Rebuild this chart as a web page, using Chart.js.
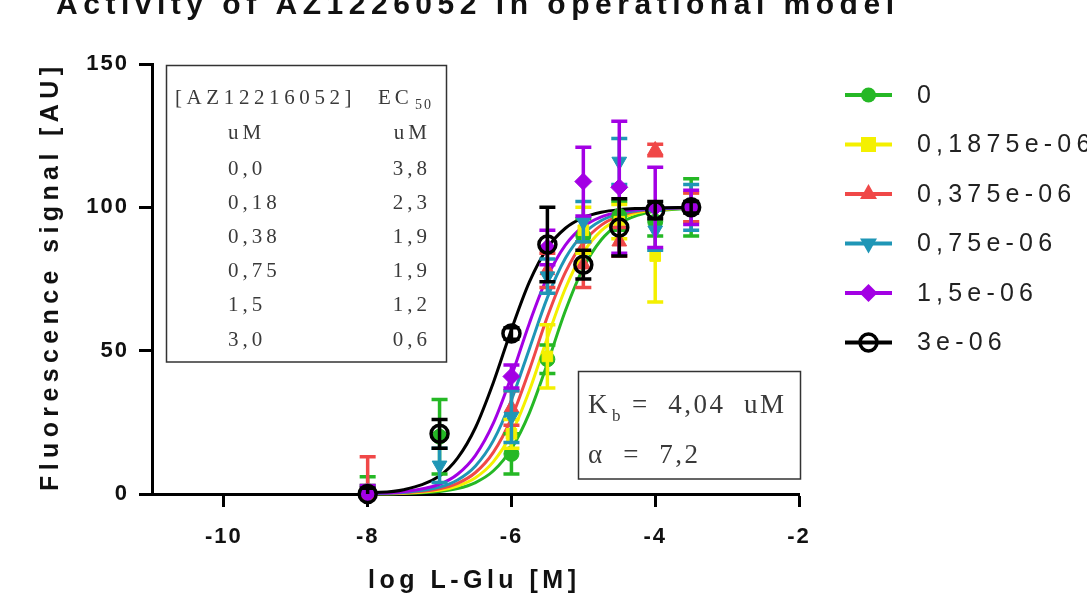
<!DOCTYPE html>
<html>
<head>
<meta charset="utf-8">
<script src="https://cdn.jsdelivr.net/npm/chart.js@4.4.1/dist/chart.umd.min.js"></script>
<style>
html, body { margin: 0; padding: 0; background: #fff; overflow: hidden; }
#wrap { width: 1087px; height: 593px; }
</style>
</head>
<body>
<div id="wrap"><canvas id="activityChart" width="1087" height="593"></canvas></div>
<script>
// series (antagonist concentration, M)
const seriesNames = ["0", "0,1875e-06", "0,375e-06", "0,75e-06", "1,5e-06", "3e-06"];
const seriesColors = ["#25b825", "#f4f000", "#f04848", "#1f96b6", "#a300e4", "#000000"];
const seriesMarkers = ["circle", "rect", "triangle", "triangleDown", "rectRot", "ring"];

// measured points: log [L-Glu]
const logGlu = [-8, -7, -6, -5.5, -5, -4.5, -4, -3.5];
const meanC0 = [1, 20, 14, 47, 90, 97, 95, 100];
const semC0 = [5, 13, 7, 5, 6, 5, 5, 10];
const meanC01875 = [0, null, 21, 48, 92, 95, 83, 100];
const semC01875 = [3, 0, 5, 11, 8, 6, 16, 5];
const meanC0375 = [0, null, 30, 78, 80, 88, 120, 100];
const semC0375 = [13, 0, 6, 6, 8, 5, 2, 5];
const meanC075 = [0, 10, 27, 76, 95, 116, 92, 100];
const semC075 = [3, 6, 9, 6, 7, 8, 7, 8];
const meanC15 = [0, null, 41, 86, 109, 107, 100, 100];
const semC15 = [3, 0, 4, 6, 12, 23, 14, 6];
const meanC3 = [0, 21, 56, 87, 80, 93, 99, 100];
const semC3 = [2, 5, 2, 13, 5, 10, 3, 2];

// fitted curves
const fitX = [-8, -7.5, -7, -6.75, -6.5, -6.25, -6, -5.75, -5.5, -5.25, -5, -4.75, -4.5, -4.25, -4, -3.5];
const fitC0 = [0.05, 0.2, 0.9, 1.9, 4.0, 8.1, 15.8, 28.3, 45.5, 63.9, 78.9, 88.7, 94.3, 97.2, 98.7, 99.7];
const fitC01875 = [0.07, 0.3, 1.3, 2.8, 5.7, 11.3, 21.1, 36.1, 54.5, 71.7, 84.2, 91.9, 96.0, 98.1, 99.1, 99.8];
const fitC0375 = [0.09, 0.4, 1.8, 3.7, 7.5, 14.6, 26.5, 43.3, 61.8, 77.3, 87.8, 93.8, 97.0, 98.6, 99.3, 99.8];
const fitC075 = [0.12, 0.54, 2.4, 4.9, 9.8, 18.7, 32.8, 50.7, 68.5, 82.2, 90.7, 95.4, 97.8, 98.9, 99.5, 99.9];
const fitC15 = [0.18, 0.78, 3.4, 6.9, 13.5, 24.8, 41.1, 59.6, 75.7, 86.8, 93.3, 96.7, 98.4, 99.2, 99.6, 99.9];
const fitC3 = [0.34, 1.5, 6.3, 12.5, 23.2, 39.0, 57.4, 74.0, 85.8, 92.7, 96.4, 98.3, 99.2, 99.6, 99.8, 99.95];

// inset tables
const tableConc = ["0,0", "0,18", "0,38", "0,75", "1,5", "3,0"];
const tableEC50 = ["3,8", "2,3", "1,9", "1,9", "1,2", "0,6"];
const kbText = "4,04";
const alphaText = "7,2";

const xTicks = [-10, -8, -6, -4, -2];
const yTicks = [0, 50, 100, 150];

const means = [meanC0, meanC01875, meanC0375, meanC075, meanC15, meanC3];
const sems = [semC0, semC01875, semC0375, semC075, semC15, semC3];
const fits = [fitC0, fitC01875, fitC0375, fitC075, fitC15, fitC3];

const SANS = "'Liberation Sans', Arial, sans-serif";
const SERIF = "'Liberation Serif', 'Times New Roman', serif";

function markerOpts(i) {
    const m = seriesMarkers[i];
    const c = seriesColors[i];
    if (m === "ring") return { pointStyle: "circle", pointRadius: 8.5, pointBackgroundColor: "rgba(0,0,0,0)", pointBorderColor: c, pointBorderWidth: 3.5 };
    if (m === "triangleDown") return { pointStyle: "triangle", pointRotation: 180, pointRadius: 8.5, pointBackgroundColor: c, pointBorderColor: c, pointBorderWidth: 1 };
    if (m === "triangle") return { pointStyle: "triangle", pointRadius: 8.5, pointBackgroundColor: c, pointBorderColor: c, pointBorderWidth: 1 };
    if (m === "rectRot") return { pointStyle: "rectRot", pointRadius: 8.5, pointBackgroundColor: c, pointBorderColor: c, pointBorderWidth: 1 };
    if (m === "rect") return { pointStyle: "rect", pointRadius: 7.5, pointBackgroundColor: c, pointBorderColor: c, pointBorderWidth: 1 };
    return { pointStyle: "circle", pointRadius: 7.5, pointBackgroundColor: c, pointBorderColor: c, pointBorderWidth: 1 };
}

let datasets = [];
// points first (black gets the lowest order -> drawn on top)
for (let i = 0; i < seriesNames.length; i++) {
    let pts = [];
    logGlu.forEach((x, j) => { if (means[i][j] !== null) pts.push({ x: x, y: means[i][j], e: sems[i][j] }); });
    datasets.push(Object.assign({
        label: seriesNames[i],
        data: pts,
        showLine: false,
        errColor: seriesColors[i],
        isPoints: true,
        clip: false,
        order: seriesNames.length - 1 - i
    }, markerOpts(i)));
}
for (let i = 0; i < seriesNames.length; i++) {
    datasets.push({
        label: seriesNames[i] + " fit",
        data: fitX.map((x, j) => ({ x: x, y: fits[i][j] })),
        showLine: true,
        borderColor: seriesColors[i],
        borderWidth: 3,
        pointRadius: 0,
        cubicInterpolationMode: "monotone",
        clip: false,
        order: 12 - i
    });
}

// error bars under each point set (cut at the x axis like the original)
const errorBars = {
    id: "errorBars",
    beforeDatasetDraw(chart, args) {
        const ds = chart.data.datasets[args.index];
        if (!ds.isPoints) return;
        const c = chart.ctx, sx = chart.scales.x, sy = chart.scales.y;
        const floor = chart.chartArea.bottom;
        c.save();
        c.strokeStyle = ds.errColor;
        c.lineWidth = 3.5;
        ds.data.forEach(p => {
            if (!p.e) return;
            const px = sx.getPixelForValue(p.x);
            const top = sy.getPixelForValue(p.y + p.e);
            let bot = sy.getPixelForValue(p.y - p.e);
            c.beginPath();
            c.moveTo(px - 8, top); c.lineTo(px + 8, top);
            if (bot > floor) {
                bot = floor;
            } else {
                c.moveTo(px - 8, bot); c.lineTo(px + 8, bot);
            }
            c.moveTo(px, top); c.lineTo(px, bot);
            c.stroke();
        });
        c.restore();
    }
};

function drawMarker(c, style, x, y, color) {
    c.save();
    c.fillStyle = color;
    c.strokeStyle = color;
    c.beginPath();
    if (style === "circle") {
        c.arc(x, y, 7.5, 0, Math.PI * 2); c.fill();
    } else if (style === "ring") {
        c.lineWidth = 3.5; c.arc(x, y, 8.5, 0, Math.PI * 2); c.stroke();
    } else if (style === "rect") {
        c.rect(x - 7.5, y - 7.5, 15, 15); c.fill();
    } else if (style === "triangle") {
        c.moveTo(x, y - 10); c.lineTo(x + 8.5, y + 5); c.lineTo(x - 8.5, y + 5); c.closePath(); c.fill();
    } else if (style === "triangleDown") {
        c.moveTo(x, y + 10); c.lineTo(x + 8.5, y - 5); c.lineTo(x - 8.5, y - 5); c.closePath(); c.fill();
    } else if (style === "rectRot") {
        c.moveTo(x, y - 9); c.lineTo(x + 9, y); c.lineTo(x, y + 9); c.lineTo(x - 9, y); c.closePath(); c.fill();
    }
    c.restore();
}

function spacedText(c, txt, x, y, spacing) {
    c.letterSpacing = spacing + "px";
    c.fillText(txt, x, y);
    c.letterSpacing = "0px";
}

const textSpacing = {
    id: "textSpacing",
    beforeDraw(chart) {
        const c = chart.ctx;
        c.save();
        c.fillStyle = "#fff";
        c.fillRect(0, 0, chart.width, chart.height);
        c.restore();
        c.letterSpacing = "2px";
    }
};

const annotations = {
    id: "annotations",
    afterDraw(chart) {
        const c = chart.ctx;
        c.save();
        c.letterSpacing = "0px";

        // main title (top is cut off in the original)
        c.fillStyle = "#111";
        c.font = "bold 30px " + SANS;
        c.textBaseline = "alphabetic";
        c.textAlign = "left";
        const title = "Activity of AZ1226052 in operational model";
        const tw = c.measureText(title).width;
        spacedText(c, title, 56, 14, (838 - tw) / (title.length - 1));

        // x title
        c.font = "bold 25px " + SANS;
        const xt = "log L-Glu [M]";
        const xw = c.measureText(xt).width;
        spacedText(c, xt, 368, 588, (208 - xw) / (xt.length - 1));

        // y title
        c.save();
        c.translate(58, 279);
        c.rotate(-Math.PI / 2);
        const yt = "Fluorescence signal [AU]";
        const yw = c.measureText(yt).width;
        c.textAlign = "left";
        spacedText(c, yt, -212, 0, (424 - yw) / (yt.length - 1));
        c.restore();

        // legend
        c.font = "25px " + SANS;
        c.textBaseline = "middle";
        for (let i = 0; i < seriesNames.length; i++) {
            const ly = 95 + i * 49.5;
            c.strokeStyle = seriesColors[i];
            c.lineWidth = 4;
            c.beginPath(); c.moveTo(845, ly); c.lineTo(892, ly); c.stroke();
            drawMarker(c, seriesMarkers[i], 868.5, ly, seriesColors[i]);
            c.fillStyle = "#222";
            spacedText(c, seriesNames[i], 917, ly + 1, 5.2);
        }

        // EC50 table
        c.strokeStyle = "#333";
        c.lineWidth = 1.5;
        c.strokeRect(166.5, 65.5, 280, 296.5);
        c.fillStyle = "#3a3a3a";
        c.font = "21px " + SERIF;
        c.textBaseline = "middle";
        c.textAlign = "left";
        spacedText(c, "[AZ12216052]", 175, 98, 4.6);
        spacedText(c, "EC", 378, 98, 4);
        c.font = "14px " + SERIF;
        spacedText(c, "50", 415, 105, 2);
        c.font = "21px " + SERIF;
        const rowY = [133, 169, 203, 237, 271, 305, 340];
        const leftCol = ["uM"].concat(tableConc);
        const rightCol = ["uM"].concat(tableEC50);
        for (let r = 0; r < rowY.length; r++) {
            c.textAlign = "left";
            spacedText(c, leftCol[r], 228, rowY[r], 4);
            c.textAlign = "right";
            spacedText(c, rightCol[r], 431, rowY[r], 4);
        }

        // Kb / alpha box
        c.strokeRect(578.5, 371.5, 222, 107.5);
        c.textAlign = "left";
        c.textBaseline = "alphabetic";
        c.font = "27px " + SERIF;
        spacedText(c, "K", 588, 413, 2);
        c.font = "17px " + SERIF;
        spacedText(c, "b", 612, 421, 0);
        c.font = "27px " + SERIF;
        spacedText(c, "=  " + kbText + "  uM", 632, 413, 2.5);
        spacedText(c, "\u03b1  =  " + alphaText, 588, 463, 2.5);

        c.restore();
    }
};

new Chart(document.getElementById("activityChart"), {
    type: "scatter",
    data: { datasets: datasets },
    options: {
        responsive: false,
        animation: false,
        events: [],
        layout: { padding: { left: 0, right: 288, top: 64, bottom: 0 } },
        plugins: { legend: { display: false }, tooltip: { enabled: false }, title: { display: false } },
        scales: {
            x: {
                type: "linear",
                min: -11,
                max: -2,
                afterFit: s => { s.height = 99; },
                afterBuildTicks: s => { s.ticks = xTicks.map(v => ({ value: v })); },
                border: { display: true, color: "#000", width: 3 },
                grid: { drawOnChartArea: false, drawTicks: true, tickLength: 13, tickWidth: 3, tickColor: "#000" },
                ticks: { color: "#111", padding: 17, font: { family: SANS, size: 22, weight: "bold" } }
            },
            y: {
                min: 0,
                max: 150,
                afterFit: s => { s.width = 152; },
                afterBuildTicks: s => { s.ticks = yTicks.map(v => ({ value: v })); },
                border: { display: true, color: "#000", width: 3 },
                grid: { drawOnChartArea: false, drawTicks: true, tickLength: 13, tickWidth: 3, tickColor: "#000" },
                ticks: { color: "#111", padding: 10, font: { family: SANS, size: 22, weight: "bold" } }
            }
        }
    },
    plugins: [textSpacing, errorBars, annotations]
});
</script>
</body>
</html>
